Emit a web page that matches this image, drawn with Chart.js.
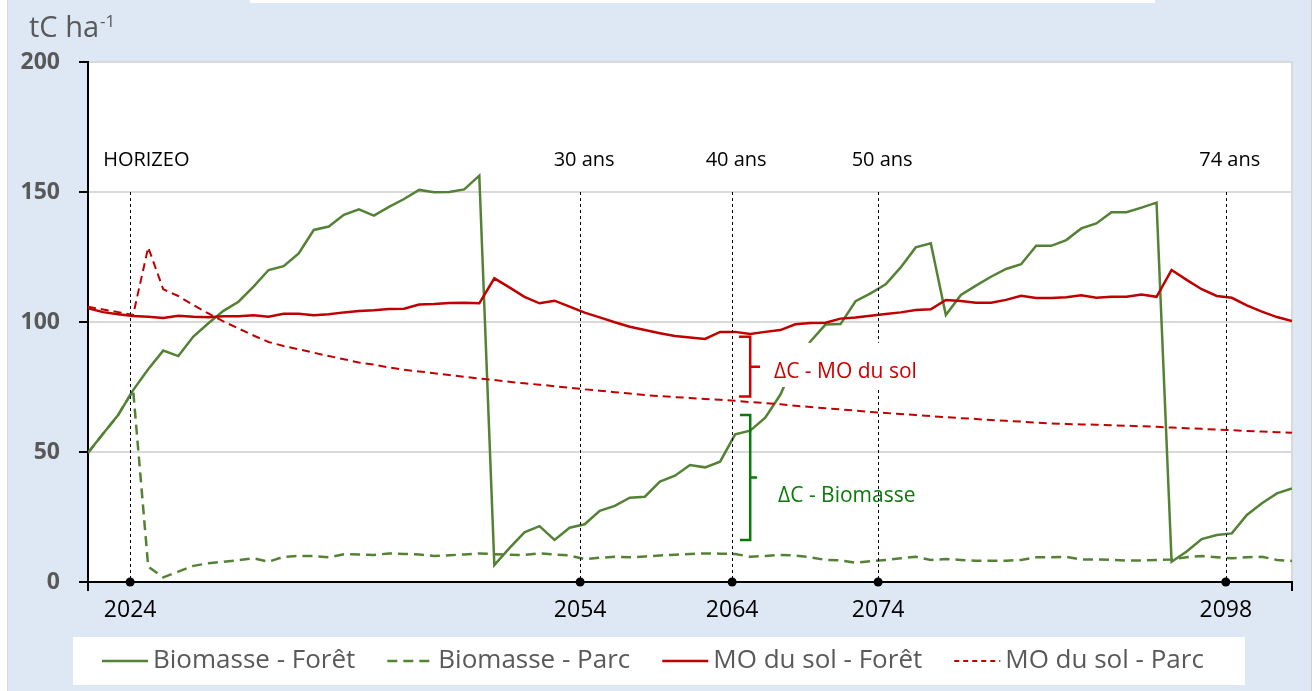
<!DOCTYPE html>
<html>
<head>
<meta charset="utf-8">
<script src="https://cdn.jsdelivr.net/npm/chart.js@4.4.1/dist/chart.umd.min.js"></script>
<style>
  html, body { margin: 0; background: #fff; }
  #wrap { position: absolute; left: 7px; top: 0; width: 1303px; height: 691px; background: #dde8f4;
          border-left: 1px solid #d9d9d9; border-right: 1px solid #d0d0d0; }
  #topbox { position: absolute; left: 250px; top: 0; width: 905px; height: 3px; background: #fff; }
  canvas { display: block; }
</style>
</head>
<body>
<div id="wrap"><canvas id="chart"></canvas></div>
<div id="topbox"></div>
<script>
const FONT = '"Open Sans", "Noto Sans", sans-serif';

// years 2021..2101, one point per year
const years = Array.from({ length: 81 }, (_, i) => 2021 + i);

const biomasseForet = [49.7, 57, 64.2, 73.8, 81.8, 89, 86.9, 94.4, 99.5, 104.3,
  107.8, 113.6, 120, 121.5, 126.4, 135.4, 136.7, 141.2, 143.3, 140.9,
  144.3, 147.3, 150.8, 149.9, 150, 151, 156.3, 6.5, 13, 19.1,
  21.5, 16.2, 20.9, 22.2, 27.4, 29.3, 32.4, 32.8, 38.6, 40.9,
  45, 44.1, 46.3, 56.8, 58.2, 63.2, 72, 85, 92.5, 99,
  99.2, 108, 111, 114.5, 121, 128.7, 130.3, 102.7, 110.4, 114,
  117.4, 120.4, 122.2, 129.3, 129.3, 131.5, 136, 137.9, 142.2, 142.2,
  144, 145.9, 7.8, 11.7, 16.5, 18.1, 18.7, 25.8, 30.3, 34.1, 36];

const biomasseParc = [49.7, 57, 64.2, 73.8, 5.9, 1.8, 4, 6.2, 7.2, 7.8,
  8.4, 9.1, 7.8, 9.7, 10, 10, 9.5, 10.7, 10.6, 10.4,
  11, 10.8, 10.6, 10, 10.3, 10.6, 11, 10.7, 10.5, 10.4,
  11, 10.6, 10.2, 8.8, 9.3, 9.7, 9.5, 9.8, 10.2, 10.5,
  10.8, 11, 10.9, 10.8, 9.7, 10, 10.4, 10.2, 9.5, 8.5,
  8.3, 7.4, 8, 8.5, 9.1, 9.7, 8.5, 8.8, 8.5, 8.2,
  8.2, 8.2, 8.5, 9.5, 9.5, 9.7, 8.7, 8.7, 8.5, 8.2,
  8.3, 8.5, 8.7, 9.5, 10, 9.5, 9.1, 9.5, 9.7, 8.5, 8.1];

const solForet = [105.3, 103.8, 103, 102.3, 102, 101.5, 102.4, 102, 101.8, 102.2,
  102.2, 102.6, 102, 103.2, 103.2, 102.6, 103, 103.7, 104.2, 104.5,
  105, 105.1, 106.7, 106.9, 107.3, 107.4, 107.2, 116.8, 113.3, 109.7,
  107.2, 108.2, 105.9, 103.6, 101.8, 99.9, 98.2, 96.9, 95.7, 94.6,
  94, 93.5, 96.2, 96.2, 95.4, 96.2, 96.9, 99.1, 99.6, 99.7,
  101.3, 101.7, 102.4, 103.1, 103.7, 104.6, 104.9, 108.5, 108.1, 107.4,
  107.4, 108.5, 110.1, 109.2, 109.2, 109.5, 110.3, 109.3, 109.7, 109.7,
  110.6, 109.7, 120, 116.2, 112.6, 110, 109.3, 106.4, 104, 101.9, 100.4];

const solParc = [105.9, 104.8, 103.8, 102.7, 128.7, 112.6, 110, 106.5, 103.3, 100.2,
  97.5, 94.8, 92.3, 90.8, 89.5, 88.2, 86.9, 85.7, 84.4, 83.6,
  82.5, 81.6, 81.0, 80.3, 79.6, 78.9, 78.3, 77.7, 77.0, 76.4,
  75.9, 75.3, 74.7, 74.1, 73.6, 73.0, 72.5, 71.9, 71.5, 71.1,
  70.8, 70.4, 70.1, 69.7, 69.2, 68.8, 68.4, 67.8, 67.3, 66.8,
  66.4, 65.9, 65.4, 65.0, 64.6, 64.2, 63.8, 63.4, 63.0, 62.7,
  62.3, 62.0, 61.7, 61.3, 61.0, 60.8, 60.6, 60.5, 60.3, 60.1,
  59.9, 59.7, 59.4, 59.1, 58.9, 58.6, 58.4, 58.1, 57.9, 57.6, 57.4];

// milestones as placed on the picture
const milestoneX = [2023.8, 2053.7, 2063.8, 2073.5, 2096.6];
const milestoneLabels = ['2024', '2054', '2064', '2074', '2098'];
const periodLabels = ['HORIZEO', '30 ans', '40 ans', '50 ans', '74 ans'];

const GREEN = '#548235', RED = '#c00000';

const annotations = {
  id: 'annotations',
  beforeDraw(chart) {
    const { ctx, chartArea: a } = chart;
    ctx.save();
    ctx.fillStyle = '#fff';
    ctx.fillRect(a.left, a.top, a.right - a.left, a.bottom - a.top);
    ctx.strokeStyle = '#d9d9d9';
    ctx.lineWidth = 2;
    ctx.strokeRect(a.left, a.top, a.right - a.left, a.bottom - a.top);
    ctx.restore();
  },
  afterDatasetsDraw(chart) {
    const { ctx } = chart;
    const x = chart.scales.x, y = chart.scales.y;
    ctx.save();

    // vertical dotted lines
    ctx.strokeStyle = '#000';
    ctx.lineWidth = 1;
    ctx.setLineDash([3, 3]);
    milestoneX.forEach(v => {
      const px = Math.round(x.getPixelForValue(v)) + 0.5;
      ctx.beginPath();
      ctx.moveTo(px, y.getPixelForValue(150));
      ctx.lineTo(px, y.getPixelForValue(0));
      ctx.stroke();
    });
    ctx.setLineDash([]);

    // dots on the axis
    ctx.fillStyle = '#000';
    milestoneX.forEach(v => {
      ctx.beginPath();
      ctx.arc(x.getPixelForValue(v), y.getPixelForValue(0), 4.5, 0, Math.PI * 2);
      ctx.fill();
    });

    // period labels
    ctx.font = '20px ' + FONT;
    ctx.textBaseline = 'alphabetic';
    periodLabels.forEach((t, i) => {
      const px = x.getPixelForValue(milestoneX[i]);
      if (i === 0) {
        ctx.textAlign = 'left';
        ctx.fillText(t, px - 27, y.getPixelForValue(160));
      } else {
        ctx.textAlign = 'center';
        ctx.fillText(t, px + 4, y.getPixelForValue(160));
      }
    });

    // brackets
    function bracket(color, xArm, xBar, xTick, yTop, yBot) {
      const pa = x.getPixelForValue(xArm), pb = x.getPixelForValue(xBar), pt = x.getPixelForValue(xTick);
      const t = y.getPixelForValue(yTop), b = y.getPixelForValue(yBot), m = (t + b) / 2;
      ctx.strokeStyle = color;
      ctx.lineWidth = 2.5;
      ctx.beginPath();
      ctx.moveTo(pa, t); ctx.lineTo(pb, t); ctx.lineTo(pb, b); ctx.lineTo(pa, b);
      ctx.moveTo(pb, m); ctx.lineTo(pt, m);
      ctx.stroke();
    }
    bracket('#d00000', 2064.26, 2065.0, 2065.65, 94.3, 71.3);
    bracket('#0a7a0a', 2064.32, 2065.0, 2065.46, 64.2, 16.2);

    // text box behind soil label hides the line
    const bx0 = x.getPixelForValue(2066.3), bx1 = x.getPixelForValue(2076.6);
    const by0 = y.getPixelForValue(92), by1 = y.getPixelForValue(75);
    ctx.fillStyle = '#fff';
    ctx.fillRect(bx0, by0, bx1 - bx0, by1 - by0);

    ctx.font = '21px ' + FONT;
    ctx.textAlign = 'left';
    ctx.fillStyle = '#d00000';
    ctx.fillText('\u0394C - MO du sol', x.getPixelForValue(2066.58), y.getPixelForValue(78.3));
    ctx.fillStyle = '#0a7a0a';
    ctx.fillText('\u0394C - Biomasse', x.getPixelForValue(2066.85), y.getPixelForValue(30.9));
    ctx.restore();
  },
  afterDraw(chart) {
    const { ctx } = chart;
    ctx.save();

    // unit
    ctx.fillStyle = '#595959';
    ctx.textAlign = 'left';
    ctx.textBaseline = 'alphabetic';
    ctx.font = '29px ' + FONT;
    ctx.fillText('tC ha', 21, 37);
    const w = ctx.measureText('tC ha').width;
    ctx.font = '17px ' + FONT;
    ctx.fillText('-1', 21 + w + 1, 27);

    // legend
    ctx.fillStyle = '#fff';
    ctx.fillRect(65, 637, 1172, 48);
    ctx.font = '26px ' + FONT;
    ctx.textBaseline = 'middle';
    let lx = 94;
    const ly = 661;
    chart.data.datasets.forEach(ds => {
      ctx.strokeStyle = ds.borderColor;
      ctx.lineWidth = ds.borderWidth;
      ctx.setLineDash(ds.legendDash || []);
      ctx.beginPath();
      ctx.moveTo(lx, ly);
      ctx.lineTo(lx + 46, ly);
      ctx.stroke();
      ctx.setLineDash([]);
      ctx.fillStyle = '#595959';
      ctx.fillText(ds.label, lx + 51, ly);
      lx += 51 + ctx.measureText(ds.label).width + 32;
    });
    ctx.restore();
  }
};

const canvas = document.getElementById('chart');
canvas.width = 1303;
canvas.height = 691;
canvas.style.width = '1303px';
canvas.style.height = '691px';

new Chart(canvas, {
  type: 'line',
  data: {
    labels: years,
    datasets: [
      { label: 'Biomasse - Forêt', data: biomasseForet, borderColor: GREEN, borderWidth: 2.5, order: 4 },
      { label: 'Biomasse - Parc', data: biomasseParc, borderColor: GREEN, borderWidth: 2.5, borderDash: [10, 6], legendDash: [10, 6], order: 3 },
      { label: 'MO du sol - Forêt', data: solForet, borderColor: RED, borderWidth: 2.5, order: 2 },
      { label: 'MO du sol - Parc', data: solParc, borderColor: RED, borderWidth: 2, borderDash: [8, 5], legendDash: [5, 4], order: 1 }
    ]
  },
  options: {
    responsive: false,
    animation: false,
    layout: { padding: { top: 62, right: 19, left: 0, bottom: 0 } },
    elements: { point: { radius: 0 }, line: { tension: 0, fill: false } },
    plugins: { legend: { display: false }, tooltip: { enabled: false } },
    scales: {
      x: {
        type: 'linear',
        min: 2021,
        max: 2101,
        afterBuildTicks: s => { s.ticks = [2021, ...milestoneX, 2101].map(v => ({ value: v })); },
        afterFit: s => { s.height = 109; },
        ticks: {
          autoSkip: false,
          maxRotation: 0,
          color: '#000',
          padding: 6,
          font: { family: FONT, size: 23 },
          callback: v => {
            const i = milestoneX.indexOf(v);
            return i >= 0 ? milestoneLabels[i] : '';
          }
        },
        grid: {
          drawOnChartArea: false,
          tickLength: 9,
          lineWidth: 2,
          tickColor: c => (c.tick && (c.tick.value === 2021 || c.tick.value === 2101)) ? '#000' : 'rgba(0,0,0,0)'
        },
        border: { color: '#000', width: 2 }
      },
      y: {
        min: 0,
        max: 200,
        afterFit: s => { s.width = 80; },
        ticks: { stepSize: 50, color: '#595959', padding: 19, font: { family: FONT, size: 23, weight: 'bold' } },
        grid: { color: '#d9d9d9', lineWidth: 2, tickColor: '#000', tickLength: 9 },
        border: { color: '#000', width: 2 }
      }
    }
  },
  plugins: [annotations]
});
</script>
</body>
</html>
